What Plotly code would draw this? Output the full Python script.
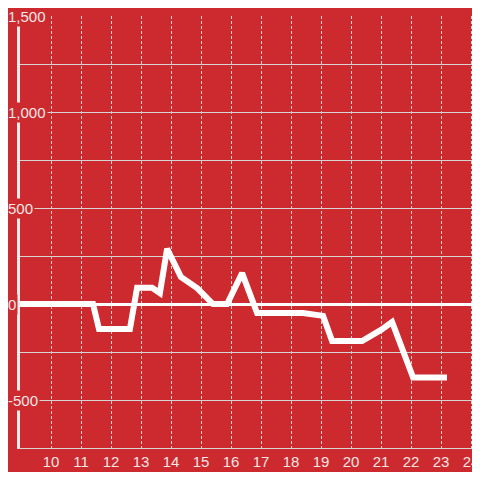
import plotly.graph_objects as go

# data
x_vals = [8.967, 11.40, 11.60, 12.63, 12.87, 13.37, 13.63, 13.87, 14.33, 14.87,
          15.40, 15.87, 16.37, 16.87, 18.40, 19.07, 19.37, 20.37, 21.00, 21.37,
          22.07, 23.20]
y_vals = [0, 0, -130, -130, 85, 85, 57, 288, 141, 83,
          0, 0, 161, -47, -47, -62, -193, -193, -135, -94,
          -383, -383]
x_ticks = list(range(10, 25))
x_tick_labels = [str(v) for v in x_ticks]
y_grid = [-750, -500, -250, 0, 250, 500, 750, 1000, 1250, 1500]
y_label_vals = [-500, 0, 500, 1000, 1500]
y_label_text = ["-500", "0", "500", "1,000", "1,500"]

BG = "#CC2A2F"
TXT = "#F2E6E6"
GRID = "#D9D4D4"

fig = go.Figure()
fig.add_trace(go.Scatter(x=x_vals, y=y_vals, mode="lines",
                         line=dict(color="white", width=6),
                         hoverinfo="skip", showlegend=False))

fig.update_layout(
    width=472, height=464,
    margin=dict(l=12, r=0, t=8, b=24),
    paper_bgcolor=BG, plot_bgcolor=BG,
    font=dict(family="Liberation Sans, Arial, sans-serif", size=15, color=TXT),
    showlegend=False,
)
fig.update_xaxes(
    range=[8.9667, 24.3], tickvals=x_ticks, ticktext=x_tick_labels,
    showgrid=True, gridcolor=GRID, gridwidth=1, griddash="3px,2px",
    zeroline=False, showline=True, linecolor=GRID, linewidth=1,
    ticks="", ticklabelstandoff=0, fixedrange=True,
)
fig.update_yaxes(
    range=[-750, 1500], tickvals=y_grid, showticklabels=False,
    showgrid=True, gridcolor=GRID, gridwidth=1,
    zeroline=True, zerolinecolor="white", zerolinewidth=3,
    showline=True, linecolor="#F0ECEC", linewidth=3, ticks="", fixedrange=True,
)

for v, t in zip(y_label_vals, y_label_text):
    fig.add_annotation(x=-14 / 460, xref="paper", xanchor="left",
                       y=v, yref="y", yanchor="middle", text=t,
                       showarrow=False, bgcolor=BG, borderpad=1,
                       font=dict(size=15, color=TXT))

fig.write_html("out.html")
